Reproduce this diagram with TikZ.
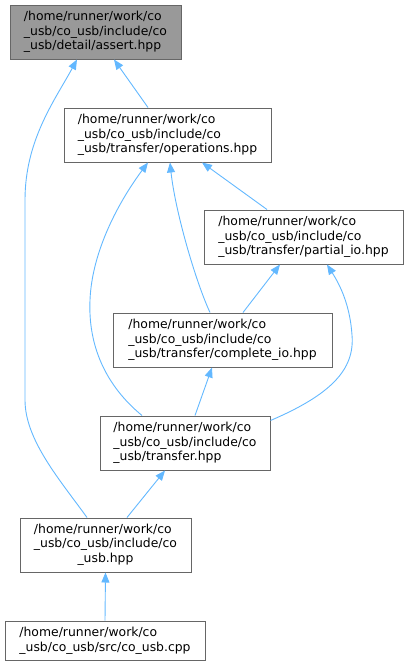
\documentclass[tikz,border=0pt]{standalone}
\usepackage{fontspec}
\setmainfont{DejaVu Sans}
\usepackage{tikz}
\usetikzlibrary{arrows.meta}
\definecolor{DoxEdgeColor}{RGB}{99,184,255}
\definecolor{DoxBorderColor}{RGB}{102,102,102}
\definecolor{DoxCurrentColor}{RGB}{153,153,153}

\begin{document}
\begin{tikzpicture}[x=1pt,y=-1pt,font=\fontsize{12.4}{14.5}\selectfont,
  box/.style n args={2}{draw=DoxBorderColor,line width=1pt,fill=white,minimum width=#1pt,minimum height=#2pt,inner sep=0pt,align=left},
  cur/.style={fill=DoxCurrentColor},
  dep/.style={DoxEdgeColor,line width=0.9pt,-{Triangle[length=10pt,width=8pt]}}]
\useasboundingbox (0,0) rectangle (409,667);
% files
\node[box={171}{54},cur](assert) at(95.5,32) {/home/runner/work/co\\\_usb/co\_usb/include/co\\\_usb/detail/assert.hpp};
\node[box={207}{54}](operations) at(167.5,135) {/home/runner/work/co\\\_usb/co\_usb/include/co\\\_usb/transfer/operations.hpp};
\node[box={199}{54}](partialio) at(303.5,237) {/home/runner/work/co\\\_usb/co\_usb/include/co\\\_usb/transfer/partial\_io.hpp};
\node[box={219}{54}](completeio) at(222.5,340) {/home/runner/work/co\\\_usb/co\_usb/include/co\\\_usb/transfer/complete\_io.hpp};
\node[box={170}{54}](transfer) at(185,443) {/home/runner/work/co\\\_usb/co\_usb/include/co\\\_usb/transfer.hpp};
\node[box={171}{54}](cousbhpp) at(105.5,545) {\begin{tabular}{@{}l@{}}/home/runner/work/co\\\_usb/co\_usb/include/co\\\multicolumn{1}{@{}c@{}}{\_usb.hpp}\end{tabular}};
\node[box={200}{39}](cousbcpp) at(105,640.5) {/home/runner/work/co\\\_usb/co\_usb/src/co\_usb.cpp};
% includes
\draw[dep] ([xshift=-19.5pt]operations.north) -- ([xshift=18.5pt]assert.south);
\draw[dep] ([xshift=-18.5pt]cousbhpp.north) .. controls (60,480) and (25,440) .. (25,400) -- (25,200)
   .. controls (25,140) and (55,100) .. ([xshift=-18.5pt]assert.south);
\draw[dep] ([xshift=-36.5pt]partialio.north) -- ([xshift=34.5pt]operations.south);
\draw[dep] ([xshift=-12.5pt]completeio.north) .. controls (195,280) and (175,210) .. ([xshift=2.5pt]operations.south);
\draw[dep] ([xshift=-43pt]transfer.north) .. controls (105,385) and (88,345) .. (90,300)
   .. controls (92,250) and (120,200) .. ([xshift=-19.5pt]operations.south);
\draw[dep] ([xshift=20.5pt]completeio.north) -- ([xshift=-23.5pt]partialio.south);
\draw[dep] ([yshift=-5pt]transfer.north east) .. controls (330,395) and (355,370) .. (352,335)
   .. controls (350,305) and (340,285) .. ([xshift=23.5pt]partialio.south);
\draw[dep] ([xshift=10pt]transfer.north) -- ([xshift=-10.5pt]completeio.south);
\draw[dep] ([xshift=21.5pt]cousbhpp.north) -- ([xshift=-20pt]transfer.south);
\draw[dep] (cousbcpp.north) -- (cousbhpp.south);
\end{tikzpicture}
\end{document}
